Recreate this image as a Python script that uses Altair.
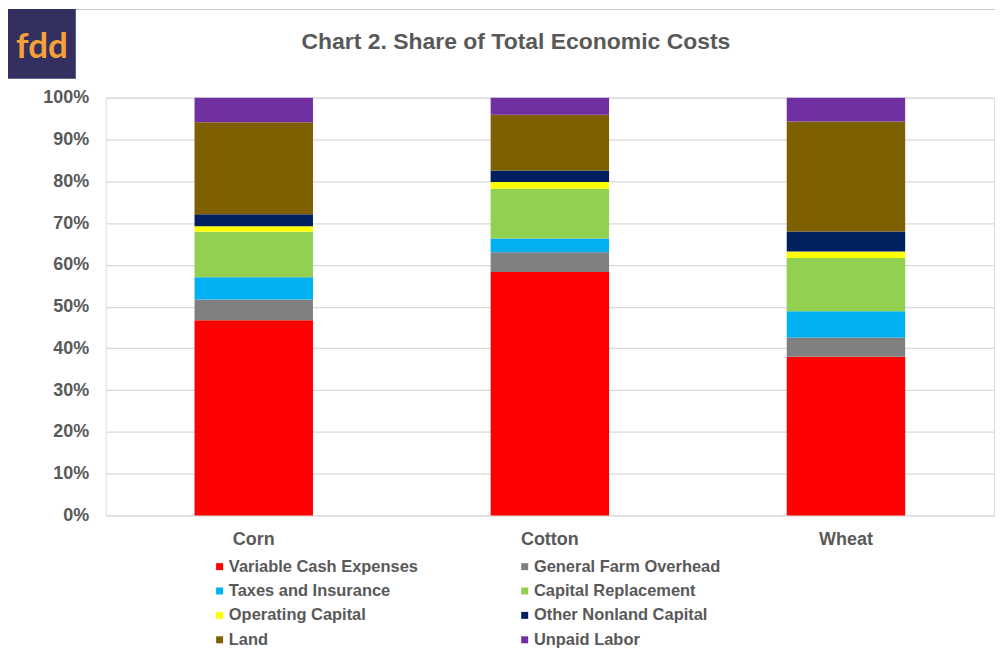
import altair as alt
import pandas as pd

title_text = "Chart 2. Share of Total Economic Costs"
crops = ["Corn", "Cotton", "Wheat"]
series = [
    "Variable Cash Expenses",
    "General Farm Overhead",
    "Taxes and Insurance",
    "Capital Replacement",
    "Operating Capital",
    "Other Nonland Capital",
    "Land",
    "Unpaid Labor",
]
colors = ["#FF0000", "#808080", "#00B0F0", "#92D050", "#FFFF00", "#002060", "#7F6000", "#7030A0"]

# share (%) per series, in crop order Corn, Cotton, Wheat
variable_cash = [46.7, 58.3, 38.0]
general_overhead = [5.0, 4.7, 4.6]
taxes_insurance = [5.3, 3.3, 6.3]
capital_replacement = [10.9, 11.9, 12.7]
operating_capital = [1.3, 1.6, 1.6]
other_nonland = [2.9, 2.8, 4.8]
land = [22.0, 13.3, 26.3]
unpaid_labor = [5.9, 4.1, 5.7]

y_ticks = list(range(0, 101, 10))

values = [variable_cash, general_overhead, taxes_insurance, capital_replacement,
          operating_capital, other_nonland, land, unpaid_labor]
rows = []
for i, (name, vals) in enumerate(zip(series, values)):
    for crop, v in zip(crops, vals):
        rows.append({"crop": crop, "series": name, "idx": i, "share": v})
df = pd.DataFrame(rows)

TXT = "#595959"
FONT = "Liberation Sans"

bars = alt.Chart(df).mark_bar().encode(
    x=alt.X("crop:N", sort=crops,
            scale=alt.Scale(paddingInner=0.6, paddingOuter=0.3),
            axis=alt.Axis(title=None, labelAngle=0, domain=False, ticks=False,
                          labelFontSize=18, labelFont=FONT, labelFontWeight="bold",
                          labelColor=TXT, labelPadding=15, grid=False)),
    y=alt.Y("share:Q", stack="zero",
            scale=alt.Scale(domain=[0, 100], nice=False),
            axis=alt.Axis(title=None, values=y_ticks, labelExpr="datum.value + '%'",
                          domain=False, ticks=False, grid=True, gridColor="#D9D9D9",
                          gridWidth=1.3, labelFontSize=18, labelFont=FONT,
                          labelFontWeight="bold", labelColor=TXT, labelPadding=17)),
    color=alt.Color("series:N", sort=series,
                    scale=alt.Scale(domain=series, range=colors),
                    legend=alt.Legend(title=None, orient="none", legendX=106, legendY=462,
                                      direction="horizontal",
                                      columns=2, columnPadding=98, rowPadding=7.5,
                                      symbolType="square", symbolSize=49,
                                      symbolStrokeWidth=0, labelFontSize=16.5,
                                      labelFont=FONT, labelFontWeight="bold",
                                      labelColor=TXT, labelOffset=1, padding=0,
                                      labelLimit=400)),
    order=alt.Order("idx:Q", sort="ascending"),
)

one = pd.DataFrame({"a": [0]})

frame = alt.Chart(one).mark_rect(fill=None, stroke="#C8C8C8", strokeWidth=1).encode(
    x=alt.value(-98.5), x2=alt.value(900), y=alt.value(-88.5), y2=alt.value(600)
)

logo = alt.Chart(one).mark_rect(fill="#332F5F").encode(
    x=alt.value(-98), x2=alt.value(-30), y=alt.value(-89), y2=alt.value(-19)
)
logo_text = alt.Chart(one).mark_text(
    text="fdd", font="Lato", fontWeight="bold", fontSize=35, color="#F8A037",
    align="center", baseline="alphabetic"
).encode(x=alt.value(-64), y=alt.value(-40))

title = alt.Chart(one).mark_text(
    text=title_text, font=FONT, fontWeight="bold", fontSize=23, color=TXT,
    align="center", baseline="alphabetic"
).encode(x=alt.value(411.5), y=alt.value(-49))

chart = alt.layer(frame, logo, logo_text, title, bars).properties(
    width=891, height=419,
    autosize=alt.AutoSizeParams(type="none"),
    padding={"left": 98, "top": 89, "right": 1, "bottom": 134},
).configure_view(stroke=None).configure(background="white")

chart.save("out.html", embed_options={"renderer": "svg", "actions": False})
